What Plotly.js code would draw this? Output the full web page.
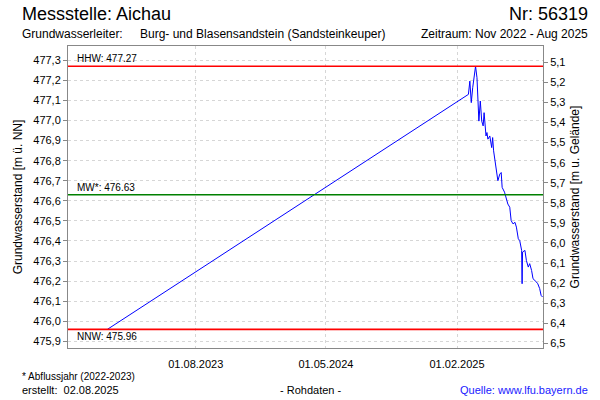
<!DOCTYPE html>
<html>
<head>
<meta charset="utf-8">
<script src="https://cdn.plot.ly/plotly-3.0.1.min.js"></script>
<style>html,body{margin:0;padding:0;background:#fff;}#chart{width:600px;height:400px;}</style>
</head>
<body>
<div id="chart"></div>
<script>
// ---- data ----
const dates = [
  '2023-01-27','2025-02-25','2025-02-28','2025-03-03','2025-03-06','2025-03-11','2025-03-12',
  '2025-03-15','2025-03-17','2025-03-19','2025-03-22','2025-03-25','2025-03-28','2025-03-30',
  '2025-04-03','2025-04-05','2025-04-07','2025-04-11','2025-04-15','2025-04-17','2025-04-19',
  '2025-04-22','2025-04-25','2025-04-28','2025-05-02','2025-05-05','2025-05-07','2025-05-12',
  '2025-05-19','2025-05-23','2025-05-26','2025-05-30','2025-06-03','2025-06-06','2025-06-10',
  '2025-06-13','2025-06-17','2025-06-18','2025-06-19','2025-06-24','2025-06-27','2025-07-01',
  '2025-07-04','2025-07-08','2025-07-11','2025-07-15','2025-07-18','2025-07-21','2025-07-25',
  '2025-07-28','2025-07-31'
];
const levels = [
  475.96, 477.13, 477.196, 477.089, 477.163, 477.262, 477.27,
  477.213, 477.113, 476.997, 477.097, 476.997, 476.973, 477.039,
  476.923, 476.94, 476.907, 476.923, 476.865, 476.915, 476.849,
  476.799, 476.766, 476.70, 476.733, 476.741, 476.667, 476.643,
  476.584, 476.568, 476.501, 476.485, 476.493, 476.469, 476.411,
  476.402, 476.353, 476.187, 476.345, 476.353, 476.303, 476.27,
  476.287, 476.253, 476.212, 476.204, 476.196, 476.187, 476.163,
  476.129, 476.121
];
const groundLevel = 482.39;           // m ü. NN (for right axis, m u. Gelände)
const refNames  = ['HHW', 'MW*', 'NNW'];
const refValues = [477.27, 476.63, 475.96];
const refColors = ['#ff0000', '#008000', '#ff0000'];
const xTickStart = '2023-08-01';
const xRange = ['2022-11-05', '2025-08-01'];
const yRange = [475.867, 477.371];

const headerLeft = 'Messstelle: Aichau';
const headerRight = 'Nr: 56319';
const aquiferLabel = 'Grundwasserleiter:';
const aquiferName = 'Burg- und Blasensandstein (Sandsteinkeuper)';
const period = 'Zeitraum: Nov 2022 - Aug 2025';
const footNote = '* Abflussjahr (2022-2023)';
const created = 'erstellt:\u00a0\u00a002.08.2025';
const dataKind = '- Rohdaten -';
const source = 'Quelle: www.lfu.bayern.de';

// ---- chart ----
const FONT = 'Liberation Sans, Arial, sans-serif';
const depths = levels.map(v => groundLevel - v);

const traces = [
  {x: dates, y: levels, type: 'scatter', mode: 'lines',
   line: {color: '#0000ff', width: 1}, hoverinfo: 'skip', showlegend: false},
  {x: dates, y: depths, yaxis: 'y2', type: 'scatter', mode: 'lines',
   line: {color: 'rgba(0,0,0,0)', width: 0}, hoverinfo: 'skip', showlegend: false}
];

const shapes = refValues.map((v, i) => ({
  type: 'line', xref: 'paper', x0: 0, x1: 1, yref: 'y', y0: v, y1: v,
  line: {color: refColors[i], width: 1.6}
}));

function px2x(px) { return (px - 68) / 475; }
function px2y(py) { return (348 - py) / 302; }

const annotations = [];
refValues.forEach((v, i) => {
  annotations.push({
    xref: 'paper', x: 0, xshift: 7, xanchor: 'left',
    yref: 'y', y: v, yanchor: i === 2 ? 'top' : 'bottom',
    text: refNames[i] + ': ' + v.toFixed(2), showarrow: false,
    font: {family: FONT, size: 10, color: '#000'}
  });
});
const txt = (t, x, y, xa, size, color) => ({
  xref: 'paper', yref: 'paper', x: x, y: y, xanchor: xa, yanchor: 'middle',
  text: t, showarrow: false, font: {family: FONT, size: size, color: color || '#000'}
});
annotations.push(txt(headerLeft, px2x(20), px2y(14), 'left', 18));
annotations.push(txt(headerRight, px2x(590), px2y(14), 'right', 18));
annotations.push(txt(aquiferLabel, px2x(20), px2y(34), 'left', 12));
annotations.push(txt(aquiferName, px2x(138), px2y(34), 'left', 12));
annotations.push(txt(period, px2x(590), px2y(34), 'right', 12));
annotations.push(txt(footNote, px2x(20), px2y(376), 'left', 10));
annotations.push(txt(created, px2x(20), px2y(390), 'left', 11));
annotations.push(txt(dataKind, px2x(310), px2y(390), 'center', 11));
annotations.push(txt(source, px2x(590), px2y(390), 'right', 11, '#1a1aff'));

const layout = {
  width: 600, height: 400,
  margin: {l: 68, r: 57, t: 46, b: 52, pad: 0},
  paper_bgcolor: '#fff', plot_bgcolor: '#fff',
  separators: ',.',
  font: {family: FONT, size: 11, color: '#000'},
  showlegend: false,
  xaxis: {
    type: 'date', range: xRange, tick0: xTickStart, dtick: 'M9',
    tickformat: '%d.%m.%Y', ticks: '', showgrid: true,
    gridcolor: '#d6d6d6', griddash: '3px,3px', gridwidth: 1,
    showline: true, linecolor: '#888', linewidth: 1, mirror: true,
    zeroline: false, tickfont: {family: FONT, size: 11, color: '#000'},
    ticklabelstandoff: 6
  },
  yaxis: {
    range: yRange, dtick: 0.1, tick0: 475.9, tickformat: '.1f',
    ticks: 'outside', ticklen: 4, tickcolor: '#888',
    showgrid: true, gridcolor: '#d6d6d6', griddash: '3px,3px', gridwidth: 1,
    showline: true, linecolor: '#888', linewidth: 1, mirror: true, zeroline: false,
    tickfont: {family: FONT, size: 11, color: '#000'},
    title: {text: 'Grundwasserstand [m ü. NN]', font: {family: FONT, size: 12, color: '#000'}, standoff: 8}
  },
  yaxis2: {
    overlaying: 'y', side: 'right',
    range: [groundLevel - yRange[0], groundLevel - yRange[1]],
    dtick: 0.1, tick0: 5.1, tickformat: '.1f',
    ticks: 'outside', ticklen: 4, tickcolor: '#888',
    showgrid: false, showline: false, zeroline: false,
    tickfont: {family: FONT, size: 11, color: '#000'},
    title: {text: 'Grundwasserstand [m u. Gelände]', font: {family: FONT, size: 12, color: '#000'}, standoff: 6}
  },
  shapes: shapes,
  annotations: annotations
};

Plotly.newPlot('chart', traces, layout, {staticPlot: true, displayModeBar: false});
</script>
</body>
</html>
